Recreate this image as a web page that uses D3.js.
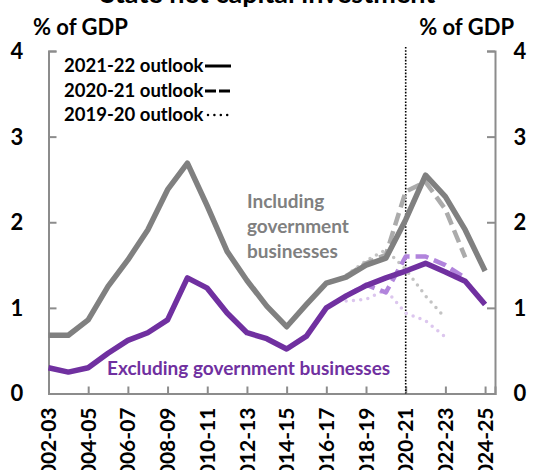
<!DOCTYPE html>
<html>
<head>
<meta charset="utf-8">
<script src="https://cdnjs.cloudflare.com/ajax/libs/d3/7.8.5/d3.min.js"></script>
<style>
  html, body { margin: 0; padding: 0; background: #fff; overflow: hidden; }
  text { font-family: Lato, "Open Sans", sans-serif; font-weight: bold; }
</style>
</head>
<body>
<svg id="chart" width="535" height="470"></svg>
<script>

// financial years on the category axis
var years = ['2002-03','2003-04','2004-05','2005-06','2006-07','2007-08','2008-09','2009-10',
             '2010-11','2011-12','2012-13','2013-14','2014-15','2015-16','2016-17','2017-18',
             '2018-19','2019-20','2020-21','2021-22','2022-23','2023-24','2024-25'];

// including government businesses, % of GDP
var incl_2122 = [0.68,0.68,0.86,1.25,1.56,1.91,2.38,2.69,2.19,1.66,1.32,1.02,0.78,1.04,1.29,1.36,1.50,1.58,2.03,2.55,2.30,1.91,1.43];
var incl_2021 = [null,null,null,null,null,null,null,null,null,null,null,null,null,null,null,1.37,1.52,1.62,2.36,2.47,2.15,1.59,null];
var incl_1920 = [null,null,null,null,null,null,null,null,null,null,null,null,null,null,null,1.38,1.55,1.68,1.45,1.14,0.88,null,null];

// excluding government businesses, % of GDP
var excl_2122 = [0.30,0.25,0.30,0.47,0.62,0.71,0.86,1.35,1.23,0.94,0.71,0.64,0.52,0.67,1.00,1.14,1.26,1.35,1.43,1.52,1.42,1.31,1.04];
var excl_2021 = [null,null,null,null,null,null,null,null,null,null,null,null,null,null,null,1.14,1.27,1.18,1.60,1.60,1.50,1.35,null];
var excl_1920 = [null,null,null,null,null,null,null,null,null,null,null,null,null,null,null,1.08,1.10,1.21,0.94,0.85,0.66,null,null];

var yTicks = [0,1,2,3,4];
var legendLabels = ['2021-22 outlook','2020-21 outlook','2019-20 outlook'];
var budgetYear = '2020-21';

var svg = d3.select('#chart');

var x = d3.scaleLinear().domain([0, years.length - 0.5]).range([48.5, 495]);
var y = d3.scaleLinear().domain([0, 4]).range([393.5, 51]);

var axisCol = '#8c8c8c';

// title, mostly off the top of the picture
svg.append('text')
   .attr('x', 268).attr('y', 3)
   .attr('text-anchor', 'middle')
   .style('font-size', '27px')
   .style('fill', '#000')
   .text('State net capital investment');

// unit labels
svg.append('text').attr('x', 33).attr('y', 35).style('font-size', '22px').text('% of GDP');
svg.append('text').attr('x', 514).attr('y', 35).attr('text-anchor', 'end').style('font-size', '22px').text('% of GDP');

// left and right axes
var yl = d3.axisLeft(y).tickValues(yTicks).tickSize(-8).tickFormat('');
var yr = d3.axisRight(y).tickValues(yTicks).tickSize(-8).tickFormat('');
var gl = svg.append('g').attr('transform', 'translate(' + x(0) + ',0)').call(yl);
var gr = svg.append('g').attr('transform', 'translate(' + x.range()[1] + ',0)').call(yr);
[gl, gr].forEach(function(g){
    g.select('.domain').attr('stroke', axisCol).attr('stroke-width', 2);
    g.selectAll('.tick line').attr('stroke', axisCol).attr('stroke-width', 2);
});

yTicks.forEach(function(t){
    svg.append('text').attr('x', 17).attr('y', y(t)).attr('dy', '0.36em')
       .attr('text-anchor', 'middle').style('font-size', '22px').text(t);
    svg.append('text').attr('x', 520).attr('y', y(t)).attr('dy', '0.36em')
       .attr('text-anchor', 'middle').style('font-size', '22px').text(t);
});

// bottom axis, ticks every second year
var tickIdx = d3.range(0, years.length, 2);
var xa = d3.axisBottom(x).tickValues(tickIdx).tickSize(-7).tickFormat('');
var gx = svg.append('g').attr('transform', 'translate(0,' + y(0) + ')').call(xa);
gx.select('.domain').attr('stroke', axisCol).attr('stroke-width', 2);
gx.selectAll('.tick line').attr('stroke', axisCol).attr('stroke-width', 2);

tickIdx.forEach(function(i){
    svg.append('text')
       .attr('transform', 'translate(' + x(i) + ',' + (y(0) + 14) + ') rotate(-90)')
       .attr('dy', '0.36em')
       .attr('text-anchor', 'end')
       .style('font-size', '21px')
       .text(years[i]);
});

// budget year marker
var bx = x(years.indexOf(budgetYear));
svg.append('line')
   .attr('x1', bx).attr('x2', bx).attr('y1', y(4) - 4).attr('y2', y(0))
   .attr('stroke', '#000').attr('stroke-width', 1.6).attr('stroke-dasharray', '1.6,1.6');

function drawLine(vals, col, w, dash, cap){
    var line = d3.line()
        .defined(function(d){ return d != null; })
        .x(function(d, i){ return x(i); })
        .y(function(d){ return y(d); });
    svg.append('path')
       .datum(vals)
       .attr('d', line)
       .attr('fill', 'none')
       .attr('stroke', col)
       .attr('stroke-width', w)
       .attr('stroke-linejoin', 'round')
       .attr('stroke-linecap', cap || 'butt')
       .attr('stroke-dasharray', dash || null);
}

// older outlooks underneath
drawLine(incl_1920, '#c3c3c3', 3.5, '0,7.3', 'round');
drawLine(excl_1920, '#dcc6ee', 3.5, '0,7.3', 'round');
drawLine(incl_2021, '#ababab', 4.5, '13,6');
drawLine(excl_2021, '#b184dc', 4.5, '13,6');
drawLine(incl_2122, '#808080', 5.5);
drawLine(excl_2122, '#7030a0', 5.5);

// legend
var legY = [65, 90, 114];
legendLabels.forEach(function(l, k){
    svg.append('text').attr('x', 64).attr('y', legY[k]).attr('dy', '0.36em')
       .style('font-size', '18.5px').text(l);
    var ln = svg.append('line')
       .attr('x1', 205).attr('x2', 231).attr('y1', legY[k] + 1).attr('y2', legY[k] + 1)
       .attr('stroke', '#000');
    if(k == 0) ln.attr('stroke-width', 3);
    if(k == 1) ln.attr('stroke-width', 3).attr('stroke-dasharray', '11,3');
    if(k == 2) ln.attr('stroke-width', 2.5).attr('stroke-dasharray', '0,6.4').attr('stroke-linecap', 'round').attr('x1', 208);
});

// series labels
var inclLines = ['Including', 'government', 'businesses'];
inclLines.forEach(function(s, k){
    svg.append('text').attr('x', 247).attr('y', 208 + k * 25)
       .style('font-size', '19px').style('fill', '#808080').text(s);
});
svg.append('text').attr('x', 107).attr('y', 375)
   .style('font-size', '19px').style('fill', '#7030a0')
   .text('Excluding government businesses');

</script>
</body>
</html>
